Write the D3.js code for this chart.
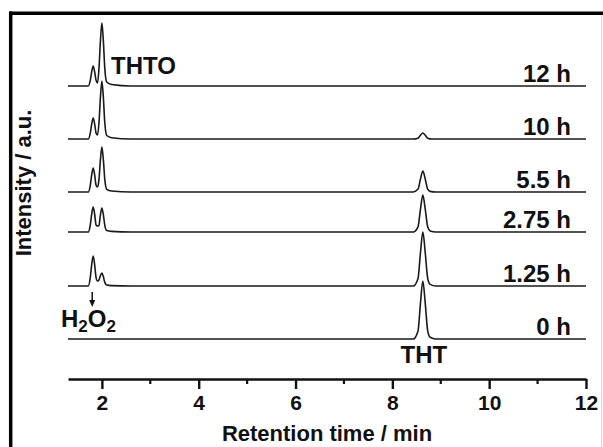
<!DOCTYPE html>
<html>
<head>
<meta charset="utf-8">
<script src="https://cdn.jsdelivr.net/npm/d3@7"></script>
<style>
  body { margin: 0; background: #fff; }
  svg text { font-family: Arial, "Liberation Sans", sans-serif; font-weight: bold; fill: #111; }
</style>
</head>
<body>
<div class="chrom-holder"></div>
<script>
// retention time ticks (min)
var majorTicks = [2, 4, 6, 8, 10, 12];
var minorTicks = [3, 5, 7, 9, 11];

// reaction times, bottom to top, and the vertical offset of each trace (a.u.)
var times   = ["0 h", "1.25 h", "2.75 h", "5.5 h", "10 h", "12 h"];
var offsets = [0, 53, 107, 147, 200, 253];

// traces: [retention time, intensity above its own baseline]
var trace0h = [[1.3,0],[8.43,0],[8.53,8.1],[8.58,35.4],[8.63,58],[8.68,35.4],[8.73,8.1],[8.78,1.7],[8.9,0],[12,0]];
var trace125h = [[1.3,0],[1.72,0],[1.76,8.4],[1.79,21.6],[1.82,30],[1.85,21.6],[1.88,8.4],[1.91,5],[1.94,6],[1.97,10.5],[2.0,13],[2.03,9.4],[2.06,3.6],[2.1,1],[2.2,0.4],[2.6,0],
  [8.43,0],[8.53,7.6],[8.58,32.9],[8.63,54],[8.68,32.9],[8.73,7.6],[8.78,1.6],[8.9,0],[12,0]];
var trace275h = [[1.3,0],[1.72,0],[1.76,7],[1.79,18],[1.82,25],[1.85,18],[1.88,7],[1.91,6],[1.94,6.7],[1.97,17.3],[2.0,24],[2.03,17.3],[2.06,6.7],[2.1,1.5],[2.2,0.6],[2.6,0],
  [8.43,0],[8.53,5.2],[8.58,22.6],[8.63,37],[8.68,22.6],[8.73,5.2],[8.78,1.1],[8.9,0],[12,0]];
var trace55h = [[1.3,0],[1.72,0],[1.76,6.7],[1.79,17.3],[1.82,24],[1.85,17.3],[1.88,6.7],[1.91,5],[1.94,12.6],[1.97,32.4],[2.0,45],[2.03,32.4],[2.06,12.6],[2.1,2.7],[2.2,1],[2.6,0],
  [8.43,0],[8.53,2.9],[8.58,12.8],[8.63,21],[8.68,12.8],[8.73,2.9],[8.78,0.6],[8.9,0],[12,0]];
var trace10h = [[1.3,0],[1.72,0],[1.76,5.9],[1.79,15.1],[1.82,21],[1.85,15.1],[1.88,5.9],[1.91,4],[1.94,16.2],[1.97,41.8],[2.0,58],[2.03,41.8],[2.06,16.2],[2.1,3.5],[2.2,1.3],[2.6,0],
  [8.43,0],[8.53,0.8],[8.58,3.7],[8.63,6],[8.68,3.7],[8.73,0.8],[8.81,0],[12,0]];
var trace12h = [[1.3,0],[1.72,0],[1.76,5.6],[1.79,14.4],[1.82,20],[1.85,14.4],[1.88,5.6],[1.91,3],[1.94,17.6],[1.97,45.4],[2.0,63],[2.03,45.4],[2.06,17.6],[2.1,4],[2.2,1.5],[2.6,0],[12,0]];

var traces = [trace0h, trace125h, trace275h, trace55h, trace10h, trace12h];

var width = 603, height = 447;

var svg = d3.select(".chrom-holder")
    .append("svg")
    .attr("width", width)
    .attr("height", height);

var scaleX = d3.scaleLinear().domain([1.3, 12]).range([68, 586]);
var scaleY = d3.scaleLinear().domain([0, 330]).range([339, 9]);

/* outer frame: heavy left/top, faint right */
svg.append("line").attr("x1", 10.7).attr("x2", 10.7).attr("y1", 11.6).attr("y2", height)
   .attr("stroke", "#000").attr("stroke-width", 3.5);
svg.append("line").attr("x1", 9).attr("x2", width).attr("y1", 13.3).attr("y2", 13.3)
   .attr("stroke", "#000").attr("stroke-width", 3.4);
svg.append("line").attr("x1", 601.5).attr("x2", 601.5).attr("y1", 15).attr("y2", height)
   .attr("stroke", "#d6d6d6").attr("stroke-width", 1);

/* x axis */
var axisY = 379;
var xAxis = svg.append("g").attr("transform", `translate(0, ${axisY})`);
xAxis.call(d3.axisBottom(scaleX).tickValues(majorTicks).tickSize(10).tickSizeOuter(0).tickPadding(6))
xAxis.select(".domain").attr("stroke", "#111").attr("stroke-width", 2.6);
xAxis.selectAll(".tick line").attr("stroke", "#111").attr("stroke-width", 2.4);
xAxis.selectAll(".tick text").attr("font-size", "21px").attr("fill", "#111")
     .attr("font-family", "Arial, 'Liberation Sans', sans-serif").attr("font-weight", "bold");

// minor ticks
xAxis.selectAll("line.minor").data(minorTicks).enter().append("line")
     .attr("class", "minor")
     .attr("x1", d => scaleX(d)).attr("x2", d => scaleX(d))
     .attr("y1", 0).attr("y2", 5)
     .attr("stroke", "#111").attr("stroke-width", 2.2);

/* traces */
var line = d3.line()
    .x(d => scaleX(d[0]))
    .curve(d3.curveMonotoneX);

traces.forEach(function(tr, i){
  svg.append("path")
     .datum(tr)
     .attr("fill", "none")
     .attr("stroke", "#1a1a1a")
     .attr("stroke-width", 1.6)
     .attr("stroke-linejoin", "round")
     .attr("d", line.y(d => scaleY(d[1] + offsets[i])));
});

/* time labels */
svg.selectAll("text.time").data(times).enter().append("text")
   .attr("class", "time")
   .attr("x", 571)
   .attr("y", (d, i) => scaleY(offsets[i]) - 4)
   .attr("text-anchor", "end")
   .attr("font-size", "24px")
   .text(d => d);

/* peak annotations */
svg.append("text").attr("x", 111).attr("y", 74).attr("font-size", "24px").text("THTO");
svg.append("text").attr("x", scaleX(8.63) + 1).attr("y", 363).attr("text-anchor", "middle")
   .attr("font-size", "24px").text("THT");

var h2o2 = svg.append("text").attr("x", 61).attr("y", 327).attr("font-size", "24px");
h2o2.append("tspan").text("H");
h2o2.append("tspan").attr("dy", 5).attr("font-size", "17px").text("2");
h2o2.append("tspan").attr("dy", -5).text("O");
h2o2.append("tspan").attr("dy", 5).attr("font-size", "17px").text("2");

// arrow pointing at the H2O2 peak
var ax = scaleX(1.8);
svg.append("line").attr("x1", ax).attr("x2", ax).attr("y1", 292).attr("y2", 301)
   .attr("stroke", "#111").attr("stroke-width", 1.5);
svg.append("path").attr("d", `M${ax-3},300 L${ax+3},300 L${ax},307 Z`).attr("fill", "#111");

/* axis titles */
svg.append("text")
   .attr("transform", "rotate(270)")
   .attr("x", -183)
   .attr("y", 31)
   .attr("text-anchor", "middle")
   .attr("font-size", "22px")
   .text("Intensity / a.u.");

svg.append("text")
   .attr("x", 327)
   .attr("y", 441)
   .attr("text-anchor", "middle")
   .attr("font-size", "22px")
   .text("Retention time / min");
</script>
</body>
</html>
